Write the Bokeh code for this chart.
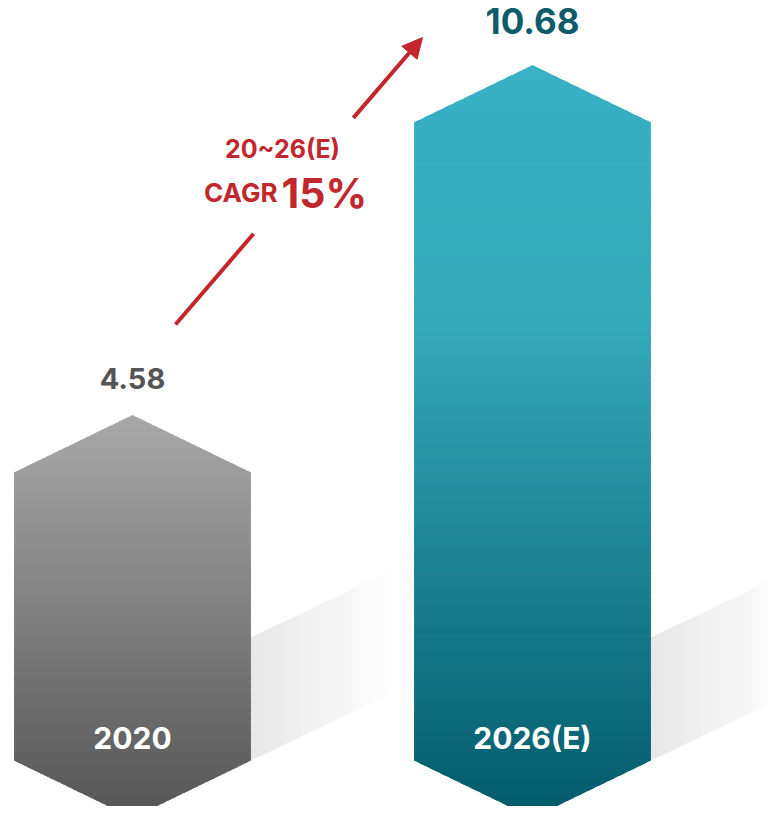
from bokeh.plotting import figure
from bokeh.models import Range1d, Arrow, NormalHead, ColumnDataSource
from bokeh.core.properties import value
from bokeh.embed import file_html
from bokeh.resources import INLINE

# ---- data ----
categories = ["2020", "2026(E)"]
values = [4.58, 10.68]
value_labels = ["4.58", "10.68"]
cagr_period = "20~26(E)"
cagr_label = "CAGR"
cagr_value = "15%"

# ---- styling ----
FONT = value("Inter")
W, H = 768, 806
XS, XE = -0.33, 1.59
YS, YE = -1.241, 12.806
HALF = 0.296        # half bar width (data units)
CAP = 1.0           # height of pointed cap (data units)
BASE = -0.44        # bottom shoulder level
TXT_SHIFT = -12     # pixel correction for text baseline
gradients = [
    [(0.0, "#a8a8a8"), (1.0, "#555555")],
    [(0.0, "#38b1c5"), (0.35, "#34a8bb"), (1.0, "#025a6b")],
]
label_colors = ["#545454", "#0d5b6b"]
label_sizes = ["29px", "35px"]
label_offsets = [-25 + TXT_SHIFT, -32 + TXT_SHIFT]
RED = "#c1272d"

def hexc(c):
    return tuple(int(c[i:i + 2], 16) for i in (1, 3, 5))

def interp(stops, t):
    for (t0, c0), (t1, c1) in zip(stops, stops[1:]):
        if t <= t1:
            f = 0 if t1 == t0 else (t - t0) / (t1 - t0)
            a, b = hexc(c0), hexc(c1)
            return "#%02x%02x%02x" % tuple(round(a[k] + (b[k] - a[k]) * f) for k in range(3))
    return stops[-1][1]

def hex_halfwidth(y, top, bot):
    if y > top:
        return HALF * max(0.0, (top + CAP - y) / CAP)
    if y < bot:
        return HALF * max(0.0, (y - (bot - CAP)) / CAP)
    return HALF

p = figure(width=W, height=H, x_range=Range1d(XS, XE), y_range=Range1d(YS, YE),
           output_backend="svg", toolbar_location=None, min_border=0)
p.axis.visible = False
p.grid.visible = False
p.outline_line_color = None
p.background_fill_color = "white"
p.border_fill_color = "white"

# ---- shadows (horizontal fade) ----
SH_LEN = 0.36
SH_H = 2.14
SLOPE = 3.334
NS = 60
for i, v in enumerate(values):
    x0 = i + HALF
    xs_l, ys_l, cols = [], [], []
    for k in range(NS):
        a = x0 + SH_LEN * k / NS
        b = x0 + SH_LEN * (k + 2) / NS if k < NS - 1 else x0 + SH_LEN * (k + 1) / NS
        ya0 = BASE + SLOPE * (a - x0)
        yb0 = BASE + SLOPE * (b - x0)
        xs_l.append([a, b, b, a])
        ys_l.append([ya0, yb0, yb0 + SH_H, ya0 + SH_H])
        t = (k + 0.5) / NS
        cols.append(interp([(0.0, "#e7e7e7"), (1.0, "#ffffff")], t))
    p.patches(xs_l, ys_l, fill_color=cols, line_color=None)

# ---- hexagonal bars with vertical gradient ----
N = 150
for i, v in enumerate(values):
    top, bot = v, BASE
    ytop, ybot = top + CAP, bot - CAP
    step = (ytop - ybot) / N
    xs_l, ys_l, cols = [], [], []
    for k in range(N):
        y1 = ytop - step * k
        y0 = max(ybot, ytop - step * (k + 1) - step * 0.6)
        pts_y = [y0, y1]
        for s in (top, bot):
            if y0 < s < y1:
                pts_y.append(s)
        pts_y = sorted(pts_y)
        right = [(i + hex_halfwidth(y, top, bot), y) for y in pts_y]
        left = [(i - hex_halfwidth(y, top, bot), y) for y in reversed(pts_y)]
        poly = right + left
        xs_l.append([q[0] for q in poly])
        ys_l.append([q[1] for q in poly])
        cols.append(interp(gradients[i], (k + 0.5) / N))
    p.patches(xs_l, ys_l, fill_color=cols, line_color=None)

# ---- value labels ----
src = ColumnDataSource(dict(
    x=list(range(len(values))),
    y=[v + CAP for v in values],
    t=value_labels, c=label_colors, s=label_sizes, o=label_offsets,
))
p.text(x="x", y="y", text="t", source=src, text_color="c", text_font_size="s",
       y_offset="o", text_align="center", text_baseline="alphabetic",
       text_font=FONT, text_font_style="bold")

# ---- category labels ----
p.text(x=list(range(len(categories))), y=[-0.25] * len(categories), text=categories,
       text_color="white", text_font_size="30px", text_align="center", y_offset=TXT_SHIFT,
       text_baseline="alphabetic", text_font=FONT, text_font_style="bold")

# ---- CAGR arrow ----
sx, sy = 0.1075, 7.16
ex, ey = 0.725, 12.16
g0, g1 = 0.316, 0.72
p.line([sx, sx + (ex - sx) * g0], [sy, sy + (ey - sy) * g0], line_color=RED, line_width=4)
p.add_layout(Arrow(x_start=sx + (ex - sx) * g1, y_start=sy + (ey - sy) * g1, x_end=ex, y_end=ey,
                   line_color=RED, line_width=4,
                   end=NormalHead(size=20, fill_color=RED, line_color=RED)))

p.text(x=[0.375], y=[10.01], text=[cagr_period], text_color=RED, text_font_size="25px",
       y_offset=TXT_SHIFT, text_align="center", text_baseline="alphabetic",
       text_font=FONT, text_font_style="bold")
p.text(x=[0.3625], y=[9.21], text=[cagr_label], text_color=RED, text_font_size="26px",
       y_offset=TXT_SHIFT - 2, text_align="right", text_baseline="alphabetic",
       text_font=FONT, text_font_style="bold")
p.text(x=[0.3725], y=[9.19], text=[cagr_value], text_color=RED, text_font_size="41px",
       y_offset=TXT_SHIFT - 3, text_align="left", text_baseline="alphabetic",
       text_font=FONT, text_font_style="bold")

open("out.html", "w").write(file_html(p, INLINE))
